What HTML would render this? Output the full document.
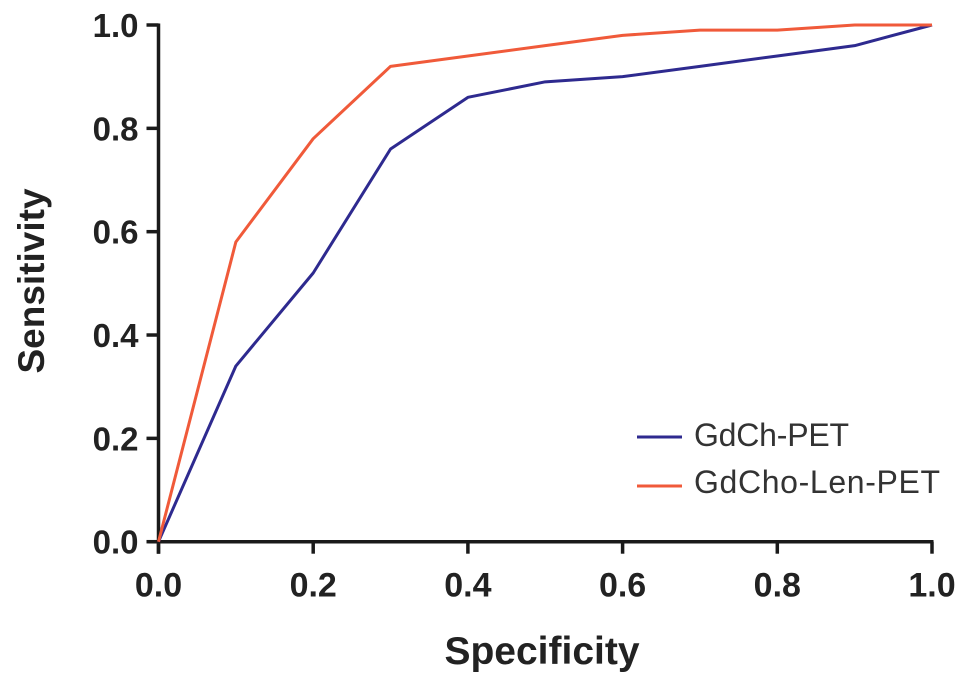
<!DOCTYPE html>
<html><head><meta charset="utf-8"><style>
html,body{margin:0;padding:0;background:#fff;}
svg{display:block;font-family:"Liberation Sans",Arial,sans-serif;}
</style></head><body>
<svg id="chart" width="969" height="685">
<g id="axes"></g><g id="series"></g>
<text x="542" y="664" text-anchor="middle" font-size="39" font-weight="bold" fill="#222">Specificity</text>
<text transform="translate(44,281) rotate(-90)" text-anchor="middle" font-size="37" font-weight="bold" fill="#222">Sensitivity</text>
<g>
<line x1="637" y1="437" x2="682" y2="437" stroke="#2e2a8f" stroke-width="3"/>
<text x="694" y="446" font-size="32" fill="#333" textLength="155">GdCh-PET</text>
<line x1="637" y1="486" x2="682" y2="486" stroke="#f05a3a" stroke-width="3"/>
<text x="694" y="493" font-size="32" fill="#333" textLength="246">GdCho-Len-PET</text>
</g>
</svg>
<script>
const xValues=[0,0.1,0.2,0.3,0.4,0.5,0.6,0.7,0.8,0.9,1.0];
const gdchValues=[0,0.34,0.52,0.76,0.86,0.89,0.90,0.92,0.94,0.96,1.0];
const gdchoLenValues=[0,0.58,0.78,0.92,0.94,0.96,0.98,0.99,0.99,1.0,1.0];
const tickValues=[0,0.2,0.4,0.6,0.8,1.0];
const tickLabels=["0.0","0.2","0.4","0.6","0.8","1.0"];
const NS="http://www.w3.org/2000/svg";
function sx(v){return 158.5+v*773.5;}
function sy(v){return 541.7-v*516.7;}
function mk(tag,attrs,parent){const e=document.createElementNS(NS,tag);for(const k in attrs)e.setAttribute(k,attrs[k]);parent.appendChild(e);return e;}
const axes=document.getElementById('axes');
const xa=mk('line',{x1:sx(0)-10,y1:sy(0),x2:sx(1)+1.5,y2:sy(0),stroke:'#1a1a1a','stroke-width':3.5},axes);


const ya=mk('line',{x1:sx(0),y1:sy(1)-1.5,x2:sx(0),y2:sy(0)+12,stroke:'#1a1a1a','stroke-width':3.5},axes);


tickValues.forEach((v,i)=>{
  const t=mk('line',{x1:sx(v),y1:sy(0),x2:sx(v),y2:sy(0)+12,stroke:'#1a1a1a','stroke-width':3.5},axes);
  
  
  const l=mk('text',{x:sx(v),y:sy(0)+55,'text-anchor':'middle','font-size':34,'font-weight':'bold',fill:'#222'},axes);
  l.textContent=tickLabels[i];
  
  
  const t2=mk('line',{x1:sx(0)-12,y1:sy(v),x2:sx(0),y2:sy(v),stroke:'#1a1a1a','stroke-width':3.5},axes);
  
  
  const l2=mk('text',{x:sx(0)-20,y:sy(v)+12,'text-anchor':'end','font-size':33,'font-weight':'bold',fill:'#222'},axes);
  l2.textContent=tickLabels[i];
  
  
});
const series=document.getElementById('series');
function line(vals,color,name){
  const pts=xValues.map((x,i)=>sx(x)+','+sy(vals[i])).join(' ');
  const p=mk('polyline',{points:pts,fill:'none',stroke:color,'stroke-width':3,'stroke-linejoin':'round'},series);
  
  
}
line(gdchValues,'#2e2a8f','line-gdch-pet');
line(gdchoLenValues,'#f05a3a','line-gdcho-len-pet');
</script>
</body></html>
